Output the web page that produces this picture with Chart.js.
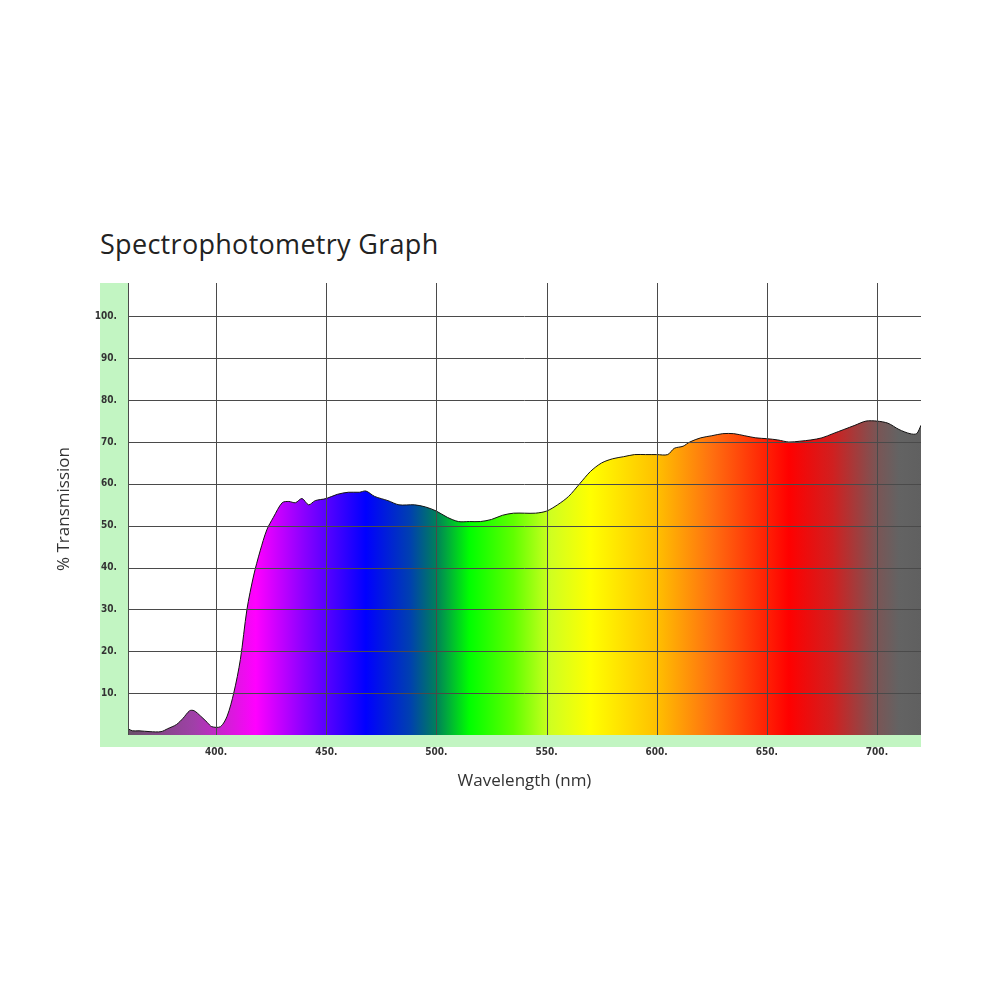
<!DOCTYPE html>
<html><head><meta charset="utf-8">
<script src="https://cdn.jsdelivr.net/npm/chart.js@4"></script>
<style>
html,body{margin:0;padding:0;background:#fff;}
#wrap{position:relative;width:1000px;height:1000px;}
#title{position:absolute;left:100px;top:225px;font:27px "Open Sans",sans-serif;color:#222;letter-spacing:0.3px;}
canvas{position:absolute;left:0;top:0;}
</style></head><body>
<div id="wrap"><div id="title">Spectrophotometry Graph</div><canvas id="c" width="1000" height="1000"></canvas></div>
<script>
const wavelengths = [360,362,365,370,375,378,382,385,388,390,393,396,398,402,405,408,411,414,417,420,423,426,430,433,436,439,442,445,450,455,460,465,468,472,478,483,490,495,500,505,510,515,520,525,530,535,540,545,550,555,560,565,570,575,580,585,590,595,600,605,608,612,615,620,625,630,635,640,645,650,655,660,665,670,675,680,685,690,695,700,705,710,715,718,720];
const transmission = [1.5,1,1,0.8,0.8,1.5,2.5,4,5.8,5.8,4.5,3,2,2,4.5,10,18,30,38,44,49,52,55.5,55.8,55.5,56.5,55,56,56.5,57.5,58,58,58.3,57,56,55,55,54.5,53.5,52,51,51,51,51.5,52.5,53,53,53,53.5,55,57,60,63,65,66,66.5,67,67,67,67,68.5,69,70,71,71.5,72,72,71.5,71,70.8,70.5,70,70.2,70.5,71,72,73,74,75,75,74.5,73,72,72,74];
const xTicks = [400,450,500,550,600,650,700];
const yTicks = [10,20,30,40,50,60,70,80,90,100];
const spectrumStops = [[360,'#6a506a'],[390,'#a040a8'],[418,'#ff00ff'],[440,'#8a00ff'],[468,'#0000ff'],[488,'#0040b0'],[500,'#00805a'],[515,'#00ff00'],[535,'#60ff00'],[552,'#d0ff20'],[570,'#ffff00'],[600,'#ffc000'],[625,'#ff7010'],[660,'#ff0000'],[680,'#d02020'],[700,'#7a5555'],[710,'#636363'],[720,'#606060']];

const band = {id:'band',beforeDraw(ch){const c=ch.ctx,a=ch.chartArea;c.save();c.fillStyle='#c2f5c2';c.fillRect(100,a.top,a.left-100,a.bottom-a.top+12);c.fillRect(100,a.bottom,a.right-100,12);c.restore();}};
const gridOnTop = {id:'gridOnTop',afterDatasetsDraw(ch){const c=ch.ctx,a=ch.chartArea,xs=ch.scales.x,ys=ch.scales.y;c.save();c.strokeStyle='#4a4a4a';c.lineWidth=1;c.beginPath();
 xTicks.forEach(v=>{const p=Math.round(xs.getPixelForValue(v))+0.5;c.moveTo(p,a.top);c.lineTo(p,a.bottom);});
 yTicks.forEach(v=>{const p=Math.round(ys.getPixelForValue(v))+0.5;c.moveTo(a.left,p);c.lineTo(a.right,p);});
 c.moveTo(a.left+0.5,a.top);c.lineTo(a.left+0.5,a.bottom);c.stroke();c.restore();}};
const tickFont={family:'"DejaVu Sans Condensed","DejaVu Sans",sans-serif',size:10,weight:'bold'};
new Chart(document.getElementById('c'),{
 type:'line',
 data:{datasets:[{data:wavelengths.map((w,i)=>({x:w,y:transmission[i]})),borderColor:'#111',borderWidth:1,pointRadius:0,tension:0.3,fill:'origin',
  backgroundColor(ctx){const ch=ctx.chart,a=ch.chartArea;if(!a)return '#888';const xs=ch.scales.x;const g=ch.ctx.createLinearGradient(a.left,0,a.right,0);const span=a.right-a.left;spectrumStops.forEach(([w,col])=>{g.addColorStop(Math.min(1,Math.max(0,(xs.getPixelForValue(w)-a.left)/span)),col);});return g;}}]},
 options:{responsive:false,animation:false,
  layout:{padding:{left:50,right:79,top:283,bottom:205}},
  plugins:{legend:{display:false},tooltip:{enabled:false}},
  scales:{
   x:{type:'linear',min:360,max:720,afterBuildTicks(s){s.ticks=xTicks.map(v=>({value:v}));},afterFit(s){s.height=60;},
      grid:{display:false},border:{display:false},
      ticks:{padding:3,color:'#333',font:tickFont,maxRotation:0,callback:v=>v+'.'},
      title:{display:true,text:'Wavelength (nm)',color:'#333',font:{family:'"Open Sans",sans-serif',size:17},padding:{top:10}}},
   y:{min:0,max:108,afterBuildTicks(s){s.ticks=yTicks.map(v=>({value:v}));},afterFit(s){s.width=78;},
      grid:{display:false},border:{display:false},
      ticks:{padding:3,color:'#333',font:tickFont,callback:v=>v+'.'},
      title:{display:true,text:'% Transmission',color:'#333',font:{family:'"Open Sans",sans-serif',size:17},padding:{bottom:20}}}
  }},
 plugins:[band,gridOnTop]
});
</script></body></html>
